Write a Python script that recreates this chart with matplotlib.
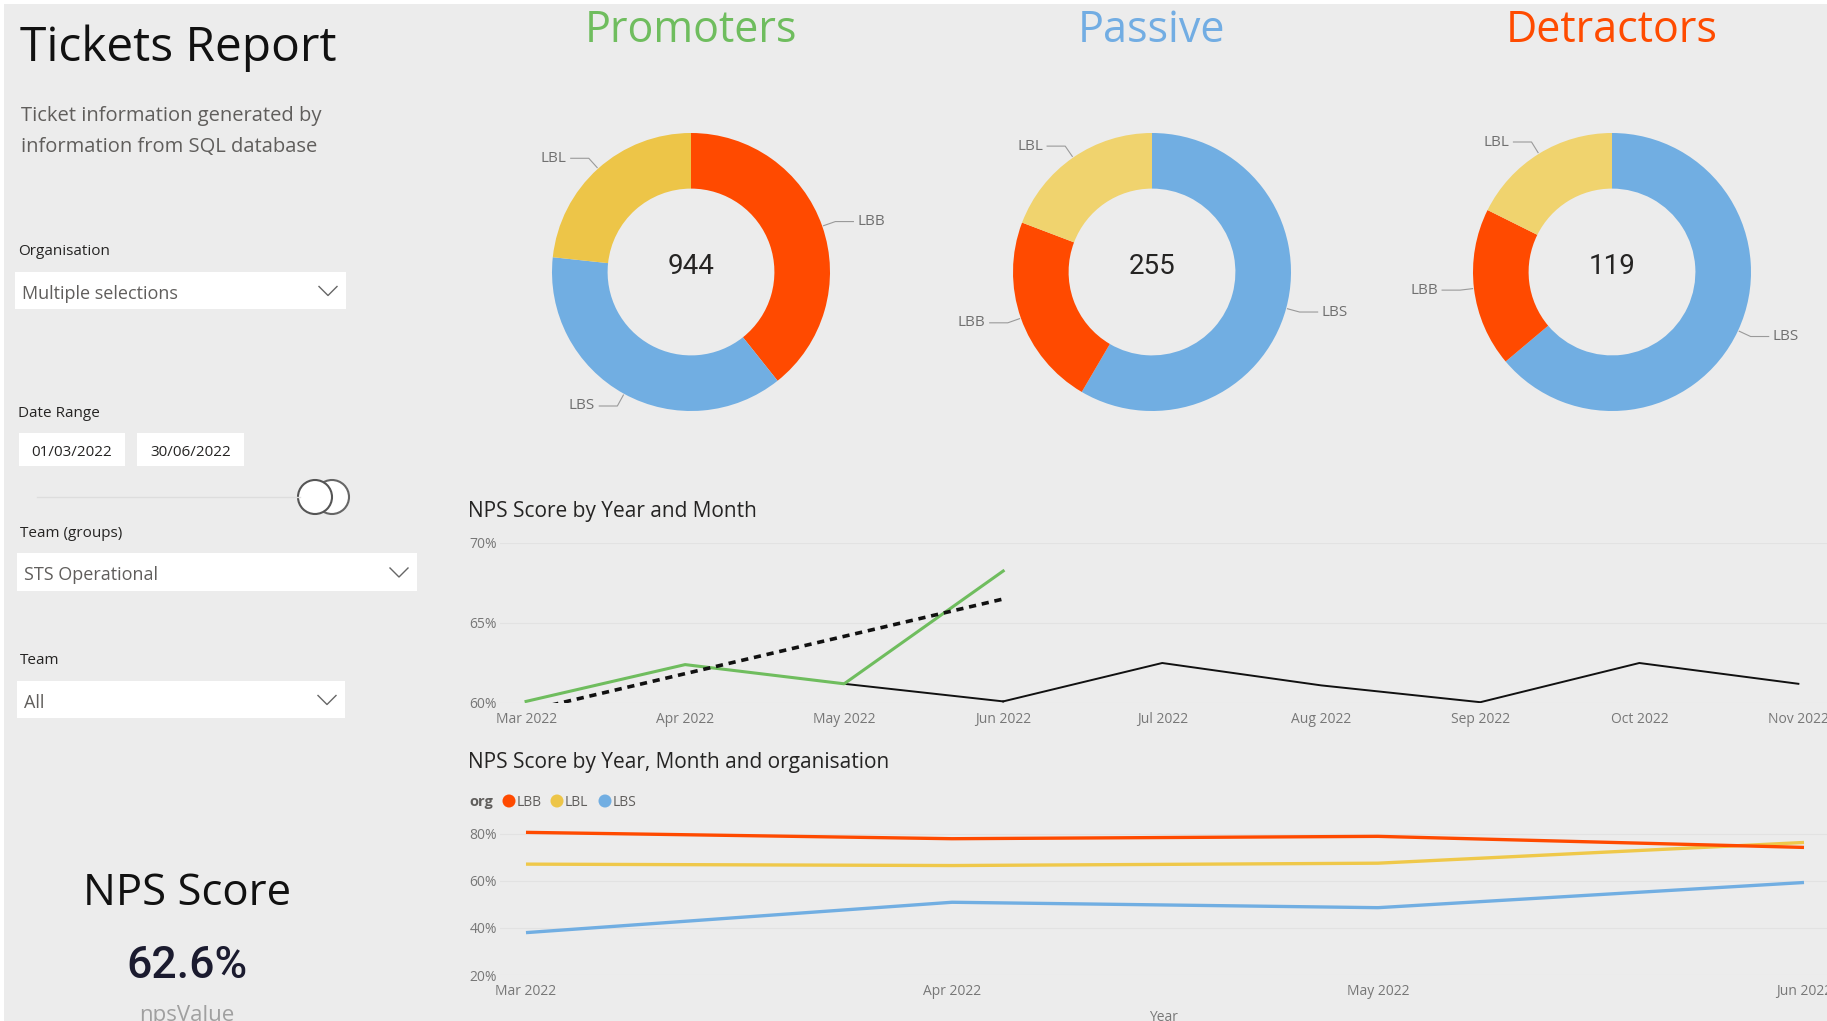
import matplotlib
matplotlib.use('Agg')
import matplotlib.pyplot as plt
from matplotlib.patches import Rectangle, Circle
import numpy as np

plt.rcParams['font.family'] = ['Open Sans', 'DejaVu Sans']

W, H = 1827, 1021

# donut data (clockwise from 12 o'clock)
prom_orgs = ['LBB', 'LBS', 'LBL']
prom_vals = [371, 353, 220]
pass_orgs = ['LBS', 'LBB', 'LBL']
pass_vals = [149, 57, 49]
detr_orgs = ['LBS', 'LBB', 'LBL']
detr_vals = [76, 22, 21]

# NPS by month
months1 = ['Mar 2022', 'Apr 2022', 'May 2022', 'Jun 2022', 'Jul 2022',
           'Aug 2022', 'Sep 2022', 'Oct 2022', 'Nov 2022']
nps_actual = [60.1, 62.4, 61.2, 68.25]                   # Mar..Jun
nps_forecast = [61.2, 60.1, 62.5, 61.1, 60.05, 62.5, 61.2]  # May..Nov
nps_trend = [59.5, 66.5]                                 # Mar, Jun

# NPS by month and organisation
months2 = ['Mar 2022', 'Apr 2022', 'May 2022', 'Jun 2022']
org_names = ['LBB', 'LBL', 'LBS']
lbb_vals = [80.6, 77.9, 78.9, 74.2]
lbl_vals = [67.1, 66.5, 67.5, 76.3]
lbs_vals = [38.0, 50.9, 48.6, 59.3]

RED = '#FF4A00'
YEL = '#EDC548'
YEL2 = '#F0D36E'
BLUE = '#71AEE2'
GREEN = '#6FBD5E'
BG = '#ECECEC'

fig = plt.figure(figsize=(W / 100, H / 100), dpi=100)
fig.patch.set_facecolor('white')


def px_axes(x0, y0, x1, y1):
    ax = fig.add_axes([x0 / W, 1 - y1 / H, (x1 - x0) / W, (y1 - y0) / H])
    ax.set_facecolor('none')
    return ax


bg = fig.add_axes([0, 0, 1, 1])
bg.set_xlim(0, W)
bg.set_ylim(H, 0)
bg.axis('off')
bg.add_patch(Rectangle((4, 4), W, H, color=BG, lw=0))

# ---- left panel ----
bg.text(20, 61, 'Tickets Report', fontsize=34.5, color='#111111', va='baseline')
bg.text(21, 121, 'Ticket information generated by', fontsize=14.5, color='#605E5C', va='baseline')
bg.text(21, 152, 'information from SQL database', fontsize=14.5, color='#605E5C', va='baseline')


def label(x, y, s):
    bg.text(x, y + 2, s, fontsize=11, color='#252423', va='center')


def dropdown(x0, y0, x1, y1, s):
    bg.add_patch(Rectangle((x0, y0), x1 - x0, y1 - y0, color='white', lw=0))
    yc = (y0 + y1) / 2
    bg.text(x0 + 7, yc + 3, s, fontsize=13, color='#605E5C', va='center')
    cx = x1 - 18
    bg.plot([cx - 9, cx, cx + 9], [yc - 4, yc + 5, yc - 4], color='#666666', lw=1)


label(18, 249, 'Organisation')
dropdown(15, 272, 346, 309, 'Multiple selections')

label(18, 411, 'Date Range')
for x0, x1, s in [(19, 125, '01/03/2022'), (137, 244, '30/06/2022')]:
    bg.add_patch(Rectangle((x0, 433), x1 - x0, 33, color='white', lw=0))
    bg.text((x0 + x1) / 2, 452, s, fontsize=11, color='#252423', ha='center', va='center')

bg.plot([37, 300], [497, 497], color='#DDDDDD', lw=1)
bg.add_patch(Circle((332, 497), 17, facecolor='white', edgecolor='#666666', lw=1.5))
bg.add_patch(Circle((315, 497), 17, facecolor='white', edgecolor='#555555', lw=1.5))

label(20, 531, 'Team (groups)')
dropdown(17, 553, 417, 591, 'STS Operational')
label(20, 658, 'Team')
dropdown(17, 681, 345, 718, 'All')

bg.text(187, 894, 'NPS Score', fontsize=31.5, color='#111111', ha='center', va='center')
bg.text(187, 966, '62.6%', fontsize=32, color='#1B1B2F', ha='center', va='center',
        family=['Roboto', 'DejaVu Sans'], weight='medium')
bg.text(187, 1015, 'npsValue', fontsize=16, color='#A0A0A0', ha='center', va='center')

# ---- donuts ----
R = 139


def donut(cx, cy, title, tcolor, names, vals, cols):
    bg.text(cx, 42, title, fontsize=31, color=tcolor, ha='center', va='baseline')
    ax = px_axes(cx - 1.6 * R, cy - 1.6 * R, cx + 1.6 * R, cy + 1.6 * R)
    wedges, _ = ax.pie(vals, colors=cols, startangle=90, counterclock=False, radius=1,
                       wedgeprops=dict(width=0.4, linewidth=0))
    ax.set_xlim(-1.6, 1.6)
    ax.set_ylim(-1.6, 1.6)
    ax.axis('off')
    for w, n in zip(wedges, names):
        a = np.deg2rad((w.theta1 + w.theta2) / 2)
        dx, dy = np.cos(a), np.sin(a)
        side = 1 if dx >= 0 else -1
        ex, ey = 1.1 * dx, 1.1 * dy
        ax.plot([1.01 * dx, ex, ex + side * 0.13], [1.01 * dy, ey, ey],
                color='#9A9A9A', lw=0.8)
        ax.text(ex + side * 0.16, ey, n, fontsize=11, color='#707070',
                ha='left' if side > 0 else 'right', va='center')
    ax.text(0, 0.04, str(sum(vals)), fontsize=20, color='#252423', ha='center', va='center',
            family=['Roboto', 'DejaVu Sans'])


colmap = {'LBB': RED, 'LBL': YEL, 'LBS': BLUE}
donut(691, 272, 'Promoters', GREEN, prom_orgs, prom_vals, [colmap[o] for o in prom_orgs])
colmap2 = {'LBB': RED, 'LBL': YEL2, 'LBS': BLUE}
donut(1152, 272, 'Passive', '#72ADE3', pass_orgs, pass_vals, [colmap2[o] for o in pass_orgs])
donut(1612, 272, 'Detractors', '#FF4B00', detr_orgs, detr_vals, [colmap2[o] for o in detr_orgs])


def style_line_axes(ax):
    for s in ax.spines.values():
        s.set_visible(False)
    ax.tick_params(length=0, labelsize=10, labelcolor='#777777')
    ax.tick_params(axis='x', pad=6.5)
    ax.tick_params(axis='y', pad=2)
    ax.grid(axis='y', color='#E2E2E2', lw=0.8)
    ax.set_axisbelow(True)


# ---- NPS by Year and Month ----
bg.text(468, 511, 'NPS Score by Year and Month', fontsize=15, color='#252423', va='center')
ax1 = px_axes(500, 543, 1827, 703)
x1 = np.arange(len(months1))
ax1.plot(x1[3:], nps_forecast[1:], color='#111111', lw=1.4)
ax1.plot(x1[2:4], nps_forecast[:2], color='#111111', lw=1.4)
ax1.plot(x1[:len(nps_actual)], nps_actual, color=GREEN, lw=2.2)
ax1.plot([x1[0], x1[3]], nps_trend, color='#111111', lw=2.6, ls=(0, (2.0, 1.6)))
ax1.set_xlim(-0.164, 8.18)
ax1.set_ylim(60, 70)
ax1.set_yticks([60, 65, 70])
ax1.set_yticklabels(['60%', '65%', '70%'])
ax1.set_xticks(x1)
ax1.set_xticklabels(months1)
style_line_axes(ax1)

# ---- NPS by Year, Month and organisation ----
bg.text(468, 762, 'NPS Score by Year, Month and organisation', fontsize=15, color='#252423', va='center')
bg.text(469, 802, 'org', fontsize=10.5, color='#605E5C', weight='bold', va='center')
leg_x = 509
org_cols = [RED, YEL, BLUE]
for name, c in zip(org_names, org_cols):
    bg.add_patch(Circle((leg_x, 801), 6.5, color=c, lw=0))
    bg.text(leg_x + 8, 802, name, fontsize=10, color='#605E5C', va='center')
    leg_x += 48

ax2 = px_axes(500, 822, 1827, 975)
x2 = np.arange(len(months2))
for vals, c in zip([lbs_vals, lbl_vals, lbb_vals], [BLUE, '#EFC84A', RED]):
    ax2.plot(x2, vals, color=c, lw=2.4, solid_capstyle='butt')
ax2.set_xlim(-0.061, 3.054)
ax2.set_ylim(20, 85)
ax2.set_yticks([20, 40, 60, 80])
ax2.set_yticklabels(['20%', '40%', '60%', '80%'])
ax2.set_xticks(x2)
ax2.set_xticklabels(months2)
style_line_axes(ax2)
ax2.set_xlabel('Year', fontsize=10, color='#777777', labelpad=8)

fig.savefig('out.png', dpi=100, facecolor=fig.get_facecolor())
